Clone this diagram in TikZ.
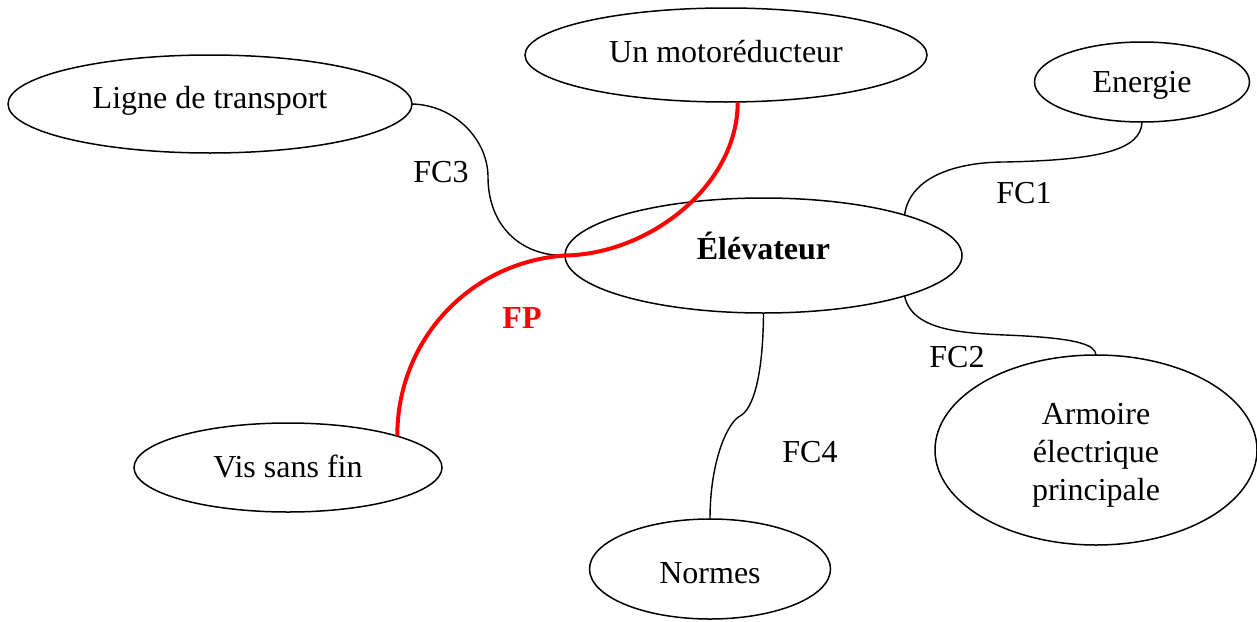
\documentclass[tikz,border=0pt]{standalone}
\usepackage{fontspec}
\setmainfont{Liberation Serif}
\usetikzlibrary{shapes.geometric}
\tikzset{bulle/.style = {draw, ellipse, inner sep = 0, outer sep = 0, line width = 0.75pt}}
\tikzset{fc/.style = {draw, line width = 0.7pt}}
\tikzset{fp/.style = {draw, red, line width = 2pt}}
% baseline of the text at #1 below the centre of the ellipse
\newcommand{\txtbase}[2]{\raisebox{-#1}[0pt][0pt]{#2}}

\begin{document}
\begin{tikzpicture}[x = 0.5pt, y = -0.5pt, font = \fontsize{16}{19}\selectfont]
      \useasboundingbox (0, 0) rectangle (1257, 621);

      \node [bulle, minimum width = 202pt, minimum height = 49pt] (ligne) at (210, 104) {\txtbase{2.2pt}{Ligne de transport}};
      \node [bulle, minimum width = 201pt, minimum height = 47pt] (moto) at (726, 55) {\txtbase{3.5pt}{Un motoréducteur}};
      \node [bulle, minimum width = 107.5pt, minimum height = 40pt] (energie) at (1142, 82) {\txtbase{5.5pt}{Energie}};
      \node [bulle, minimum width = 198.5pt, minimum height = 57.5pt] (elev) at (763.5, 255.5) {\txtbase{1.8pt}{\textbf{Élévateur}}};
      \node [bulle, minimum width = 154pt, minimum height = 44.5pt] (vis) at (288, 467.5) {\txtbase{5pt}{Vis sans fin}};
      \node [bulle, minimum width = 120.5pt, minimum height = 50pt] (normes) at (710, 569) {\txtbase{7pt}{Normes}};
      \node [bulle, minimum width = 161pt, minimum height = 95pt] (armoire) at (1096, 450)
            {\txtbase{25pt}{\begin{tabular}[b]{@{}c@{}}Armoire\\électrique\\principale\end{tabular}}};

      \draw [fc] (ligne.east) .. controls (455, 105) and (488, 140) .. (488, 177)
                 .. controls (488, 225) and (520, 256) .. (elev.west);
      \draw [fc] (elev.16.5) .. controls (910, 175) and (960, 162) .. (1005, 162)
                 .. controls (1100, 160) and (1141, 150) .. (energie.south);
      \draw [fc] (elev.-16.5) .. controls (912, 330) and (960, 333) .. (1005, 335)
                 .. controls (1080, 338) and (1095, 345) .. (armoire.north);
      \draw [fc] (elev.south) .. controls (763, 380) and (752, 410) .. (740, 416)
                 .. controls (728, 422) and (710, 460) .. (normes.north);
      \draw [fp] (moto.-76) .. controls (738, 185) and (650, 254) .. (elev.west)
                 .. controls (470, 262) and (397, 340) .. (vis.16); %FP

      \node (fc3) at (441, 172) {FC3};
      \node (fc1) at (1024, 193) {FC1};
      \node (fc2) at (957, 357) {FC2};
      \node (fc4) at (810, 452) {FC4};
      \node [red] (fp) at (522, 318) {\textbf{FP}};
\end{tikzpicture}
\end{document}
